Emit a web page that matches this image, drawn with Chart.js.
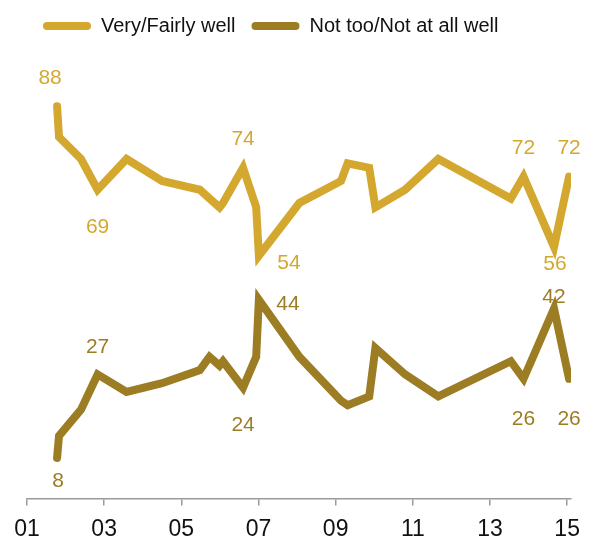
<!DOCTYPE html>
<html>
<head>
<meta charset="utf-8">
<script src="https://cdn.jsdelivr.net/npm/chart.js@4"></script>
<style>
  html, body { margin: 0; padding: 0; background: #fff; }
  #wrap { width: 592px; height: 538px; }
</style>
</head>
<body>
<div id="wrap"><canvas id="chart" width="592" height="538"></canvas></div>
<script>
// survey dates as decimal years
const surveyDates = [2001.78, 2001.83, 2002.4, 2002.83, 2003.58, 2004.5, 2005.48, 2005.73, 2005.99, 2006.08,
    2006.6, 2006.94, 2007.01, 2008.06, 2009.14, 2009.31, 2009.87, 2010.03, 2010.8, 2011.66,
    2013.54, 2013.87, 2014.66, 2015.05];
const veryWell = [88, 81, 76, 69, 76, 71, 69, 67, 65, 66, 74, 65, 54, 66, 71, 75, 74, 65, 69, 76, 67, 72, 56, 72];
const notWell = [8, 13, 19, 27, 23, 25, 28, 31, 29, 30, 24, 31, 44, 31, 21, 20, 22, 33, 27, 22, 30, 26, 42, 26];
const seriesNames = ["Very/Fairly well", "Not too/Not at all well"];
const tickYears = [2001, 2003, 2005, 2007, 2009, 2011, 2013, 2015];
// which points carry a value label
const labeledPoints = [0, 3, 10, 12, 21, 22, 23];

const colors = ["#D4A82F", "#9C7D23"];
const font = "'Liberation Sans', Arial, sans-serif";

// label offsets (px) from the point, per series, in labeledPoints order
const labelOffsets = [
    [[-7, -28], [0, 37], [0, -29], [30, 7], [0, -28], [1, 17], [0, -28]],
    [[1, 23], [0, -27], [0, 38], [29, 5], [0, 40], [0, -11], [0, 40]],
];

function toPoints(values) {
    return values.map((v, i) => ({ x: surveyDates[i], y: v }));
}

const valueLabels = {
    id: "valueLabels",
    afterDatasetsDraw(chart) {
        const ctx = chart.ctx;
        ctx.save();
        ctx.font = "21px " + font;
        ctx.textAlign = "center";
        ctx.textBaseline = "middle";
        chart.data.datasets.forEach((ds, di) => {
            const meta = chart.getDatasetMeta(di);
            ctx.fillStyle = colors[di];
            labeledPoints.forEach((idx, k) => {
                const el = meta.data[idx];
                const off = labelOffsets[di][k];
                ctx.fillText(String(ds.data[idx].y), el.x + off[0], el.y + off[1]);
            });
        });
        ctx.restore();
    },
};

const canvas = document.getElementById("chart");
const chart = new Chart(canvas.getContext("2d"), {
    type: "line",
    data: {
        datasets: [
            { label: seriesNames[0], data: toPoints(veryWell) },
            { label: seriesNames[1], data: toPoints(notWell) },
        ].map((ds, i) => ({
            ...ds,
            borderColor: colors[i],
            backgroundColor: colors[i],
            borderWidth: 8,
            borderCapStyle: "round",
            borderJoinStyle: "miter",
            pointRadius: 0,
            tension: 0,
            fill: false,
        })),
    },
    options: {
        responsive: false,
        animation: false,
        layout: { padding: { left: 27, right: 21, top: 0, bottom: -15 } },
        plugins: {
            legend: {
                position: "top",
                align: "start",
                labels: {
                    boxWidth: 48,
                    boxHeight: 8,
                    useBorderRadius: true,
                    borderRadius: 4,
                    padding: 16,
                    color: "#111",
                    font: { family: font, size: 20 },
                    generateLabels: (chart) =>
                        Chart.defaults.plugins.legend.labels.generateLabels(chart).map((item) => ({
                            ...item,
                            lineWidth: 0,
                        })),
                },
            },
            tooltip: { enabled: false },
        },
        scales: {
            x: {
                type: "linear",
                min: 2001,
                max: 2015.1,
                afterBuildTicks: (axis) => {
                    axis.ticks = tickYears.map((v) => ({ value: v }));
                },
                ticks: {
                    color: "#111",
                    font: { family: font, size: 23 },
                    padding: 10,
                    maxRotation: 0,
                    autoSkip: false,
                    callback: (v) => String(v).slice(2),
                },
                grid: {
                    drawOnChartArea: false,
                    drawTicks: true,
                    tickLength: 7,
                    color: "#9a9a9a",
                    lineWidth: 1.5,
                },
                border: { color: "#9a9a9a", width: 1.5 },
            },
            y: {
                display: false,
                min: -1.2,
                max: 101.7,
            },
        },
    },
    plugins: [valueLabels],
});
</script>
</body>
</html>
